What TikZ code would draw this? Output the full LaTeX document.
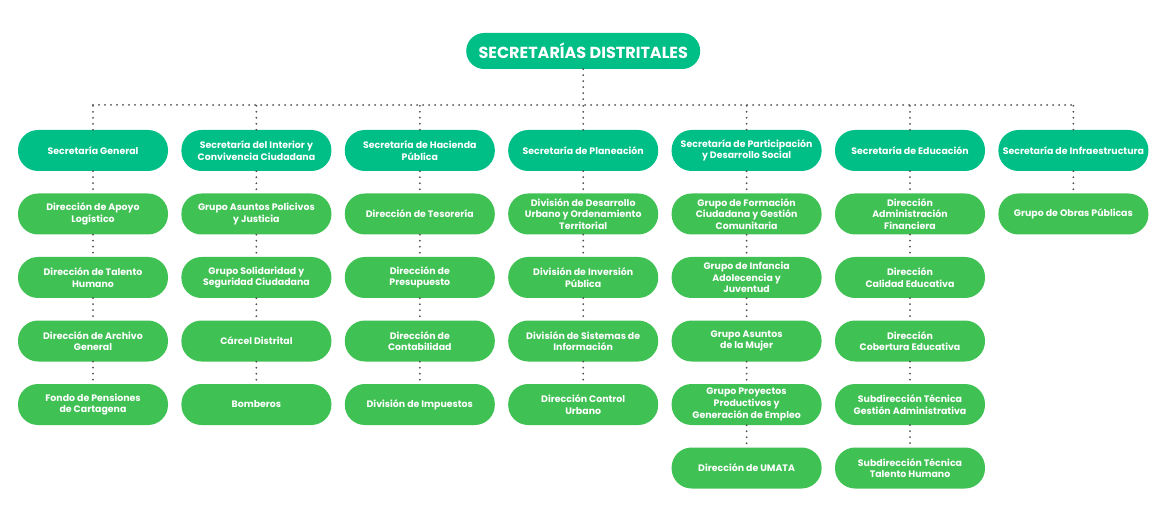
\documentclass[tikz,border=0pt]{standalone}
\usepackage{fontspec}
\setmainfont{Poppins}
\usepackage{tikz}
\usetikzlibrary{calc}
\usetikzlibrary{positioning}

\definecolor{secteal}{RGB}{0,191,134}
\definecolor{depgreen}{RGB}{64,193,84}
\definecolor{dotgray}{RGB}{80,80,80}

\tikzset{
	pill/.style={rounded corners=20pt, minimum width=150pt, minimum height=41pt,
		inner sep=1pt, align=center, text=white, font=\bfseries\fontsize{9.4}{11.6}\selectfont},
	secbox/.style={pill, fill=secteal},
	depbox/.style={pill, fill=depgreen},
	dots/.style={draw=dotgray, line width=2pt, line cap=round, dash pattern=on 0pt off 6pt}
}

\begin{document}
\begin{tikzpicture}[x=1pt, y=-1pt]
		\useasboundingbox (0, 0) rectangle (1160, 513);
		% titulo
		\node[fill=secteal, rounded corners=18pt, minimum width=234pt, minimum height=36pt,
			text=white, font=\bfseries\fontsize{16}{18}\selectfont] (top) at (583.2, 51) {SECRETARÍAS DISTRITALES};
		\coordinate (bus) at (583.2, 105);
		% secretarias
		\node[secbox] (s1) at (93, 150.5) {Secretaría General};
		\node[secbox] (s2) at (256.4, 150.5) {Secretaría del Interior y\\Convivencia Ciudadana};
		\node[secbox] (s3) at (419.8, 150.5) {Secretaría de Hacienda\\Pública};
		\node[secbox] (s4) at (583.2, 150.5) {Secretaría de Planeación};
		\node[secbox] (s5) at (746.6, 150.5) {Secretaría de Participación\\y Desarrollo Social};
		\node[secbox] (s6) at (910, 150.5) {Secretaría de Educación};
		\node[secbox] (s7) at (1073.4, 150.5) {Secretaría de Infraestructura};
		% general
		\node[depbox] (a1) at (93, 214) {Dirección de Apoyo\\Logístico};
		\node[depbox] (a2) at (93, 277.5) {Dirección de Talento\\Humano};
		\node[depbox] (a3) at (93, 341) {Dirección de Archivo\\General};
		\node[depbox] (a4) at (93, 404.5) {Fondo de Pensiones\\de Cartagena};
		% interior
		\node[depbox] (b1) at (256.4, 214) {Grupo Asuntos Policivos\\y Justicia};
		\node[depbox] (b2) at (256.4, 277.5) {Grupo Solidaridad y\\Seguridad Ciudadana};
		\node[depbox] (b3) at (256.4, 341) {Cárcel Distrital};
		\node[depbox] (b4) at (256.4, 404.5) {Bomberos};
		% hacienda
		\node[depbox] (c1) at (419.8, 214) {Dirección de Tesorería};
		\node[depbox] (c2) at (419.8, 277.5) {Dirección de\\Presupuesto};
		\node[depbox] (c3) at (419.8, 341) {Dirección de\\Contabilidad};
		\node[depbox] (c4) at (419.8, 404.5) {División de Impuestos};
		% planeacion
		\node[depbox] (d1) at (583.2, 214) {División de Desarrollo\\Urbano y Ordenamiento\\Territorial};
		\node[depbox] (d2) at (583.2, 277.5) {División de Inversión\\Pública};
		\node[depbox] (d3) at (583.2, 341) {División de Sistemas de\\Información};
		\node[depbox] (d4) at (583.2, 404.5) {Dirección Control\\Urbano};
		% participacion
		\node[depbox] (e1) at (746.6, 214) {Grupo de Formación\\Ciudadana y Gestión\\Comunitaria};
		\node[depbox] (e2) at (746.6, 277.5) {Grupo de Infancia\\Adolecencia y\\Juventud};
		\node[depbox] (e3) at (746.6, 341) {Grupo Asuntos\\de la Mujer};
		\node[depbox] (e4) at (746.6, 404.5) {Grupo Proyectos\\Productivos y\\Generación de Empleo};
		\node[depbox] (e5) at (746.6, 468) {Dirección de UMATA};
		% educacion
		\node[depbox] (f1) at (910, 214) {Dirección\\Administración\\Financiera};
		\node[depbox] (f2) at (910, 277.5) {Dirección\\Calidad Educativa};
		\node[depbox] (f3) at (910, 341) {Dirección\\Cobertura Educativa};
		\node[depbox] (f4) at (910, 404.5) {Subdirección Técnica\\Gestión Administrativa};
		\node[depbox] (f5) at (910, 468) {Subdirección Técnica\\Talento Humano};
		% infraestructura
		\node[depbox] (g1) at (1073.4, 214) {Grupo de Obras Públicas};
		% lineas punteadas
		\draw[dots] (top.south) -- (bus);
		\draw[dots] (s1.north |- bus) -- (s7.north |- bus);
		\draw[dots] (s1.north) -- (s1.north |- bus);
		\draw[dots] (s2.north) -- (s2.north |- bus);
		\draw[dots] (s3.north) -- (s3.north |- bus);
		\draw[dots] (s4.north) -- (bus);
		\draw[dots] (s5.north) -- (s5.north |- bus);
		\draw[dots] (s6.north) -- (s6.north |- bus);
		\draw[dots] (s7.north) -- (s7.north |- bus);
		\draw[dots] (s1) -- (a1) (a1) -- (a2) (a2) -- (a3) (a3) -- (a4);
		\draw[dots] (s2) -- (b1) (b1) -- (b2) (b2) -- (b3) (b3) -- (b4);
		\draw[dots] (s3) -- (c1) (c1) -- (c2) (c2) -- (c3) (c3) -- (c4);
		\draw[dots] (s4) -- (d1) (d1) -- (d2) (d2) -- (d3) (d3) -- (d4);
		\draw[dots] (s5) -- (e1) (e1) -- (e2) (e2) -- (e3) (e3) -- (e4) (e4) -- (e5);
		\draw[dots] (s6) -- (f1) (f1) -- (f2) (f2) -- (f3) (f3) -- (f4) (f4) -- (f5);
		\draw[dots] (s7) -- (g1);
	\end{tikzpicture}
\end{document}
